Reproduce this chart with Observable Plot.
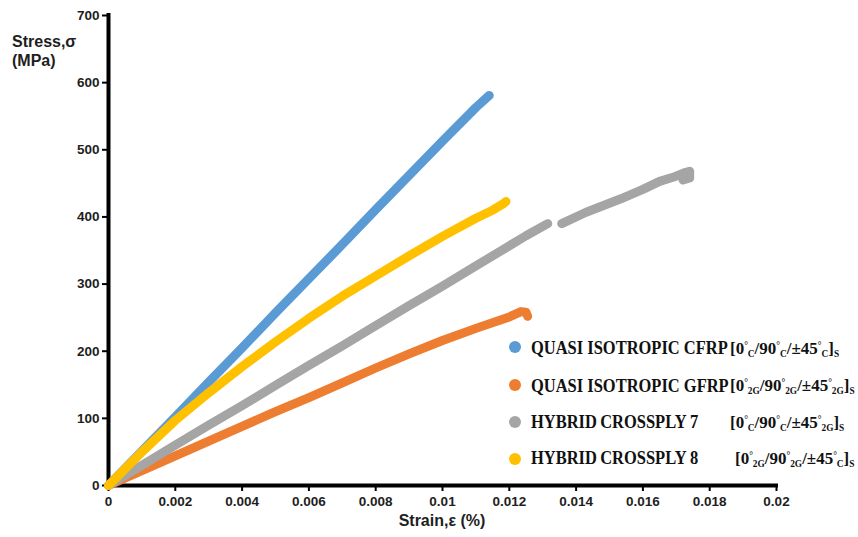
<!DOCTYPE html>
<html><head><meta charset="utf-8">
<script src="https://cdn.jsdelivr.net/npm/d3@7"></script>
<script src="https://cdn.jsdelivr.net/npm/@observablehq/plot@0.6"></script>
<style>
body{margin:0;background:#fff;}
#wrap{position:relative;width:858px;height:537px;overflow:hidden;}
.lbl{position:absolute;font-family:"Liberation Sans",Arial,sans-serif;font-weight:bold;color:#1e1e1e;font-size:16px;line-height:1;white-space:nowrap;}
.leg{position:absolute;font-family:"Liberation Serif","Times New Roman",serif;font-weight:bold;font-size:18px;line-height:1;color:#111;white-space:nowrap;transform-origin:0 0;}
.leg.name{transform:scaleX(0.915);}
.leg.layup{font-size:17.5px;transform:scaleX(0.97);}
.leg sup,.leg sub{font-size:0.55em;line-height:0;}
.leg sub{vertical-align:-0.35em;}
.leg sup{vertical-align:0.55em;}
.dot{position:absolute;width:12px;height:12px;border-radius:50%;}
</style></head><body><div id="wrap"></div>
<script>
// ---- data ----
const seriesNames = ["QUASI ISOTROPIC CFRP", "QUASI ISOTROPIC GFRP", "HYBRID\u2009CROSSPLY 7", "HYBRID\u2009CROSSPLY 8"];
const seriesLayups = [
  "[0<sup>°</sup><sub>C</sub>/90<sup>°</sup><sub>C</sub>/±45<sup>°</sup><sub>C</sub>]<sub>S</sub>",
  "[0<sup>°</sup><sub>2G</sub>/90<sup>°</sup><sub>2G</sub>/±45<sup>°</sup><sub>2G</sub>]<sub>S</sub>",
  "[0<sup>°</sup><sub>C</sub>/90<sup>°</sup><sub>C</sub>/±45<sup>°</sup><sub>2G</sub>]<sub>S</sub>",
  "[0<sup>°</sup><sub>2G</sub>/90<sup>°</sup><sub>2G</sub>/±45<sup>°</sup><sub>C</sub>]<sub>S</sub>"
];
const seriesColors = ["#5B9BD5", "#ED7D31", "#A5A5A5", "#FFC000"];

const cfrpStrain = [0, 0.001, 0.002, 0.003, 0.004, 0.005, 0.006, 0.007, 0.008, 0.009, 0.010, 0.011, 0.0114];
const cfrpStress = [0, 51, 102, 154, 205, 257, 308, 359, 411, 462, 513, 563, 581];

const gfrpStrain = [0, 0.001, 0.002, 0.003, 0.004, 0.005, 0.006, 0.007, 0.008, 0.009, 0.010, 0.011, 0.012, 0.01235, 0.0125, 0.01255];
const gfrpStress = [0, 22, 44, 66, 88, 110, 131, 153, 175, 196, 216, 234, 251, 259, 258, 252];

const cp7Strain = [0, 0.001, 0.002, 0.003, 0.004, 0.005, 0.006, 0.007, 0.008, 0.009, 0.010, 0.011, 0.012, 0.0125, 0.01315, 0.01336, 0.01357, 0.0143, 0.01534, 0.0160, 0.0165, 0.0169, 0.01725, 0.0174, 0.0174, 0.0172];
const cp7Stress = [0, 30, 60, 90, 119, 149, 179, 208, 238, 268, 297, 327, 357, 372, 390, null, 390, 407, 427, 441, 453, 459, 466, 468, 458, 455];

const cp8Strain = [0, 0.001, 0.002, 0.003, 0.004, 0.005, 0.006, 0.007, 0.008, 0.009, 0.010, 0.011, 0.0115, 0.0118, 0.0119];
const cp8Stress = [0, 50, 97, 138, 177, 214, 249, 282, 312, 342, 371, 398, 410, 419, 423];

const xTicks = [0, 0.002, 0.004, 0.006, 0.008, 0.01, 0.012, 0.014, 0.016, 0.018, 0.02];
const yTicks = [0, 100, 200, 300, 400, 500, 600, 700];

const strains = [cfrpStrain, gfrpStrain, cp7Strain, cp8Strain];
const stresses = [cfrpStress, gfrpStress, cp7Stress, cp8Stress];

// ---- build ----
const seriesData = seriesNames.map((name, i) =>
  strains[i].map((s, j) => ({series: name, strain: s, stress: stresses[i][j]})));

const chart = Plot.plot({
  width: 858,
  height: 537,
  marginLeft: 108,
  marginRight: 82,
  marginTop: 15,
  marginBottom: 52,
  style: {fontFamily: '"Liberation Sans", Arial, sans-serif', fontSize: "13.5px", fontWeight: "bold", color: "#1e1e1e", background: "#fff"},
  x: {domain: [0, 0.02]},
  y: {domain: [0, 700]},
  color: {domain: seriesNames, range: seriesColors},
  marks: [
    Plot.axisX({ticks: xTicks, tickFormat: d3.format("~g"), tickSize: 6, tickPadding: 5, strokeWidth: 2, stroke: "#000", label: null}),
    Plot.axisY({ticks: yTicks, tickSize: 6, tickPadding: 3, strokeWidth: 2, stroke: "#000", label: null}),
    Plot.ruleX([0], {stroke: "#000", strokeWidth: 4, strokeLinecap: "square"}),
    Plot.ruleY([0], {stroke: "#000", strokeWidth: 4, strokeLinecap: "square"}),
    ...seriesData.map(d => Plot.line(d, {x: "strain", y: "stress", stroke: "series", strokeWidth: 9, strokeLinecap: "round", strokeLinejoin: "round"}))
  ]
});

const wrap = document.getElementById("wrap");
wrap.appendChild(chart);

// axis titles
const yTitle = document.createElement("div");
yTitle.className = "lbl";
yTitle.style.left = "12px"; yTitle.style.top = "32px"; yTitle.style.lineHeight = "19px";
yTitle.innerHTML = "Stress,σ<br>(MPa)";
wrap.appendChild(yTitle);

const xTitle = document.createElement("div");
xTitle.className = "lbl";
xTitle.style.left = "442px"; xTitle.style.top = "513px"; xTitle.style.transform = "translateX(-50%)";
xTitle.textContent = "Strain,ε (%)";
wrap.appendChild(xTitle);

// legend
const legDotY = [347, 385, 422, 459];
const legBase = [354, 391.5, 428, 464];
const legLayupX = [730, 730, 730, 735];
seriesNames.forEach((name, i) => {
  const dot = document.createElement("div");
  dot.className = "dot";
  dot.style.background = seriesColors[i];
  dot.style.left = (515 - 6) + "px";
  dot.style.top = (legDotY[i] - 6) + "px";
  wrap.appendChild(dot);
  const t = document.createElement("div");
  t.className = "leg name";
  t.style.left = "531px";
  t.style.top = (legBase[i] - 15) + "px";
  t.textContent = name;
  wrap.appendChild(t);
  const l = document.createElement("div");
  l.className = "leg layup";
  l.style.left = legLayupX[i] + "px";
  l.style.top = (legBase[i] - 14.5) + "px";
  l.innerHTML = seriesLayups[i];
  wrap.appendChild(l);
});
</script>
</body></html>
